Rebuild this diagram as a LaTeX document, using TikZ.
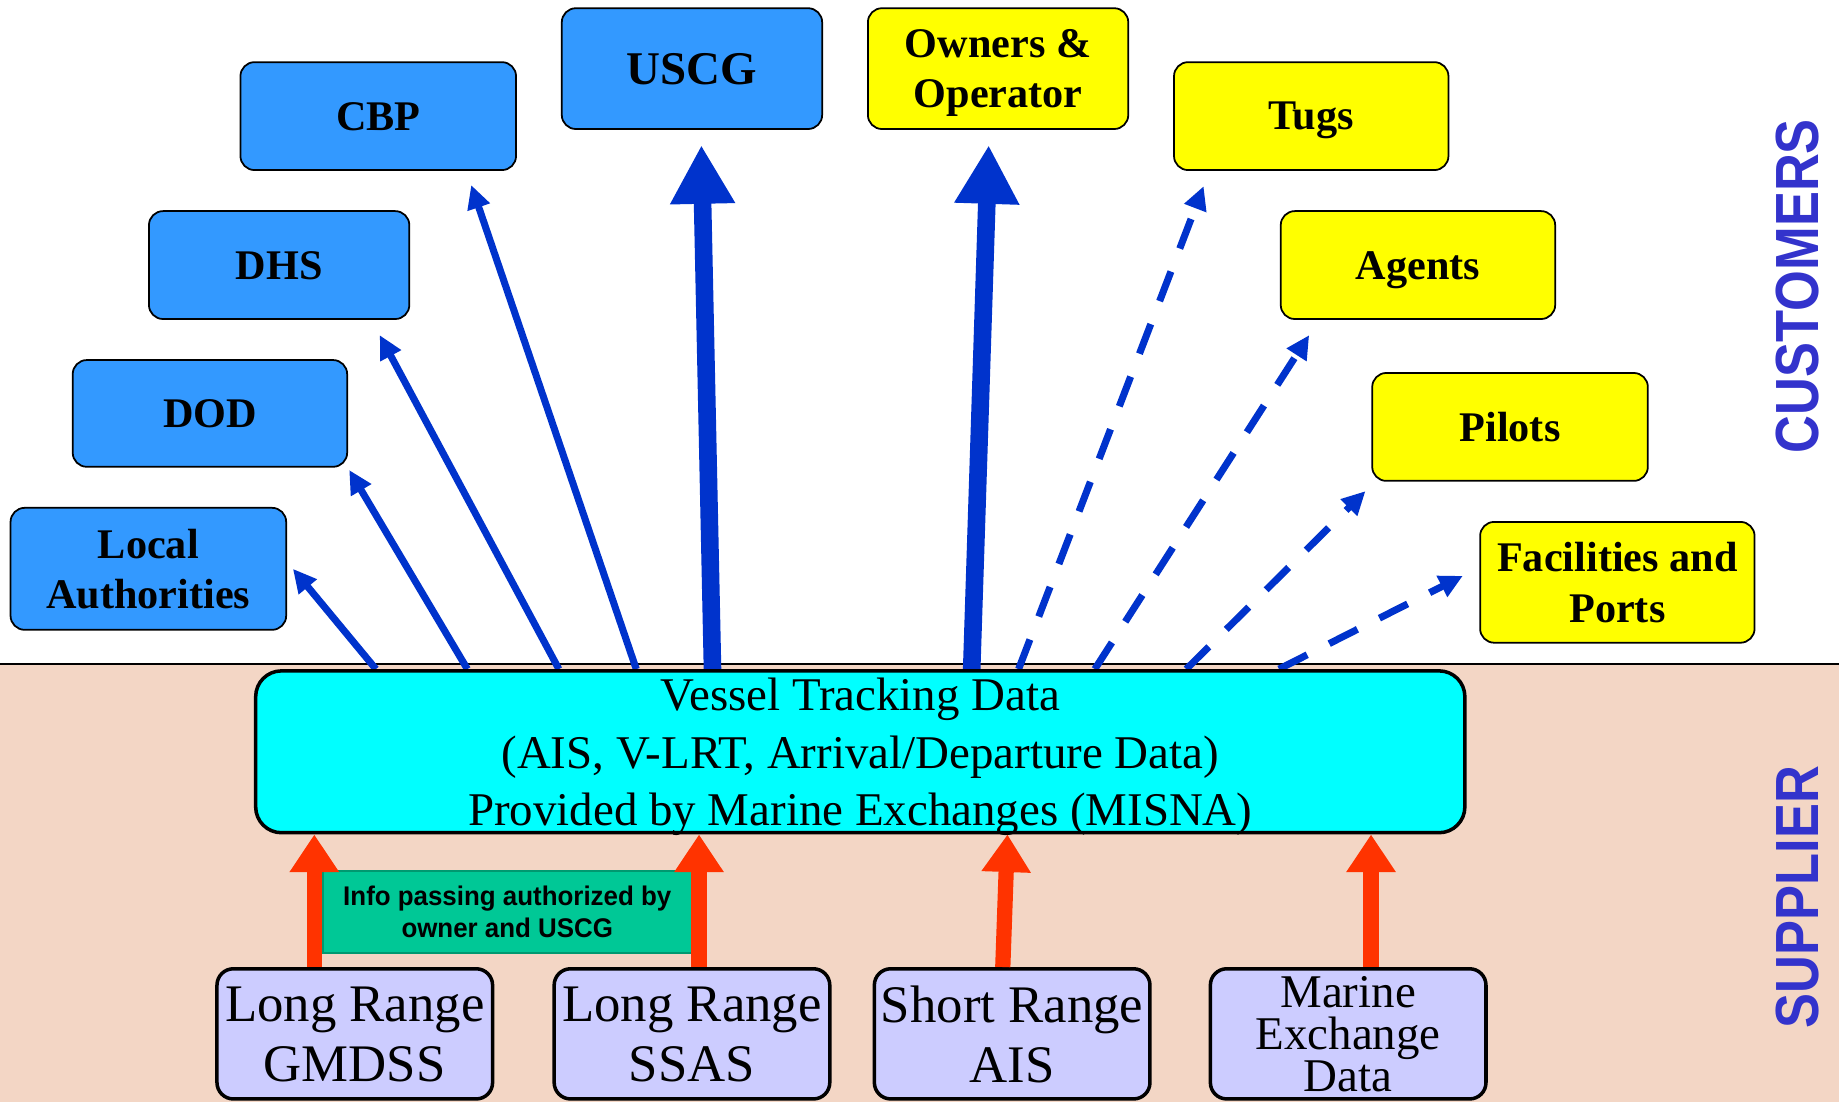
\documentclass[tikz,border=0pt]{standalone}
\usepackage{fontspec}
\setmainfont{Liberation Serif}
\newfontfamily\sidefont[FakeStretch=0.86]{Liberation Sans}
\newfontfamily\infofont[FakeStretch=0.96]{Liberation Sans}
\usetikzlibrary{arrows.meta,calc}
\definecolor{boxblue}{HTML}{3399FF}
\definecolor{boxyellow}{HTML}{FFFF00}
\definecolor{boxcyan}{HTML}{00FFFF}
\definecolor{lav}{HTML}{CCCCFF}
\definecolor{peach}{HTML}{F3D6C5}
\definecolor{arrblue}{HTML}{0033CC}
\definecolor{arrred}{HTML}{FF3300}
\definecolor{infogreen}{HTML}{00C896}
\definecolor{infoborder}{HTML}{009970}
\definecolor{sidecol}{HTML}{3333CC}
\pgfdeclarelayer{back}
\pgfdeclarelayer{mid}
\pgfsetlayers{back,mid,main}
\begin{document}
\begin{tikzpicture}[x=1pt,y=-1pt,
  box/.style={draw=black, line width=1.5pt, rounded corners=12pt, inner sep=0pt, align=center,
    text depth=0pt, font=\bfseries\fontsize{36}{43}\selectfont},
  bluebox/.style={box, fill=boxblue},
  yelbox/.style={box, fill=boxyellow},
  srcbox/.style={draw=black, line width=3pt, rounded corners=14pt, fill=lav, inner sep=0pt,
    text depth=0pt, minimum width=235, minimum height=111, align=center, font=\fontsize{45}{51}\selectfont},
  thinarrow/.style={draw=arrblue, line width=6pt, -{Triangle[length=20pt,width=19pt]}},
  dasharrow/.style={thinarrow, dash pattern=on 27pt off 21pt},
  thickarrow/.style={draw=arrblue, line width=15pt, -{Triangle[length=50pt,width=52pt]}},
  redarrow/.style={draw=arrred, line width=13pt, -{Triangle[length=32pt,width=40pt]}},
  sidelabel/.style={rotate=90, text=sidecol, inner sep=0pt, font=\sidefont\bfseries\fontsize{52}{52}\selectfont}
]
\useasboundingbox (0,0) rectangle (1568,940);
\begin{pgfonlayer}{back}
  \fill[white] (0,0) rectangle (1568,566);
  \fill[peach] (0,566) rectangle (1568,940);
  \draw[line width=1.5pt] (0,566) -- (1568,566);
\end{pgfonlayer}

% customers
\node[bluebox, minimum width=235, minimum height=92] (cbp) at (322.5,99) {CBP};
\node[bluebox, minimum width=222, minimum height=103, font=\bfseries\fontsize{40}{46}\selectfont] (uscg) at (590,58.5) {USCG};
\node[bluebox, minimum width=222, minimum height=92] (dhs) at (238,226) {DHS};
\node[bluebox, minimum width=234, minimum height=91] (dod) at (179,352.5) {DOD};
\node[bluebox, minimum width=235, minimum height=104] (la) at (126.5,485) {Local\\Authorities};
\node[yelbox, minimum width=222, minimum height=103] (own) at (851,58.5) {Owners \&\\Operator};
\node[yelbox, minimum width=234, minimum height=92] (tugs) at (1118,99) {Tugs};
\node[yelbox, minimum width=234, minimum height=92] (agents) at (1209,226) {Agents};
\node[yelbox, minimum width=235, minimum height=92] (pilots) at (1287.5,364) {Pilots};
\node[yelbox, minimum width=234, minimum height=103] (fac) at (1379,496.5) {Facilities and\\Ports};

% central data box
\node[draw=black, line width=3pt, rounded corners=22pt, fill=boxcyan, inner sep=0pt,
  minimum width=1031, minimum height=138, align=center, text depth=0pt,
  font=\fontsize{40}{49}\selectfont] (vtd) at (733.5,641)
  {Vessel Tracking Data\\(AIS, V-LRT, Arrival/Departure Data)\\Provided by Marine Exchanges (MISNA)};

% suppliers
\node[srcbox] (g1) at (302.5,881.5) {Long Range\\GMDSS};
\node[srcbox] (g2) at (590,881.5) {Long Range\\SSAS};
\node[srcbox] (g3) at (863,881.5) {Short Range\\AIS};
\node[srcbox, font=\fontsize{40}{36}\selectfont] (g4) at (1149.5,881.5) {Marine\\Exchange\\Data};

\node[fill=infogreen, draw=infoborder, line width=2pt, inner sep=0pt,
  minimum width=315, minimum height=70, align=center,
  font=\infofont\bfseries\fontsize{23}{27}\selectfont] (info) at (432.5,777.5)
  {Info passing authorized by\\owner and USCG};

% red arrows
\draw[redarrow] ([xshift=-34.5pt]g1.north) -- ([xshift=-34.5pt]g1.north |- vtd.south);
\draw[redarrow] ([xshift=6pt]g2.north) -- ([xshift=6pt]g2.north |- vtd.south);
\draw[redarrow] ([xshift=-8pt]g3.north) -- ([xshift=-4pt]g3.north |- vtd.south);
\draw[redarrow] ([xshift=19.5pt]g4.north) -- ([xshift=19.5pt]g4.north |- vtd.south);

% side labels
\node[sidelabel] (cust) at (1533,244) {CUSTOMERS};
\node[sidelabel] (supp) at (1533,765) {SUPPLIER};

% blue arrows
\begin{pgfonlayer}{mid}
  \draw[thinarrow] ([xshift=104pt]vtd.north west) -- ([shift={(5,0)}]la.east);
  \draw[thinarrow] ([xshift=182pt]vtd.north west) -- ([shift={(1,2)}]dod.south east);
  \draw[thinarrow] ([xshift=260pt]vtd.north west) -- ([shift={(-26,13)}]dhs.south east);
  \draw[thinarrow] ([xshift=326pt]vtd.north west) -- ([shift={(-39,12)}]cbp.south east);
  \draw[thickarrow] ([xshift=391pt]vtd.north west) -- ([shift={(8,13)}]uscg.south);
  \draw[thickarrow] ([xshift=612pt]vtd.north west) -- ([shift={(-8,13)}]own.south);
  \draw[dasharrow] ([xshift=652pt]vtd.north west) -- ([shift={(26,13)}]tugs.south west);
  \draw[dasharrow] ([xshift=717pt]vtd.north west) -- ([shift={(25,13)}]agents.south west);
  \draw[dasharrow] ([xshift=795pt]vtd.north west) -- ([shift={(-5,8)}]pilots.south west);
  \draw[dasharrow] ([xshift=874pt]vtd.north west) -- ([shift={(-14,-5.5)}]fac.west);
\end{pgfonlayer}
\end{tikzpicture}
\end{document}
